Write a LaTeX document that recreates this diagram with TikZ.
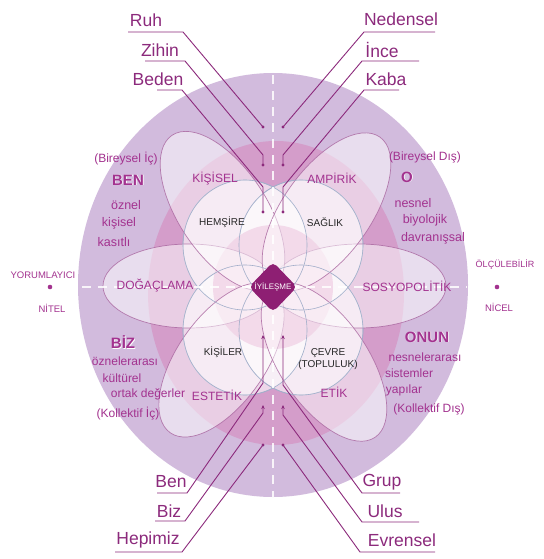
\documentclass[tikz,border=0pt]{standalone}
\usepackage{fontspec}
\setmainfont{Liberation Sans}
\usetikzlibrary{arrows.meta}
\definecolor{outerc}{HTML}{D2BBDD}
\definecolor{pinkc}{HTML}{D49DCA}
\definecolor{innerpink}{HTML}{E2A4CB}
\definecolor{petaledge}{HTML}{A8649E}
\definecolor{circedge}{HTML}{A3AECA}
\definecolor{linec}{HTML}{8C2A7C}
\definecolor{txtc}{HTML}{A3328F}
\definecolor{diac}{HTML}{8E1F73}
\tikzset{
  petal/.style={fill=white, fill opacity=0.5, draw=petaledge, draw opacity=0.8, line width=0.7pt},
  wcirc/.style={fill=white, fill opacity=0.6, draw=circedge, line width=0.7pt},
  leader/.style={draw=linec, line width=0.9pt},
  lbl/.style={text=linec, font=\fontsize{17.5}{20}\selectfont, inner sep=0pt},
  qtxt/.style={text=txtc, font=\fontsize{12.5}{14}\selectfont, inner sep=0pt},
  ptxt/.style={text=txtc, font=\fontsize{12}{14}\selectfont, inner sep=0pt},
  ctxt/.style={text=black!85, font=\fontsize{10}{11.5}\selectfont, inner sep=0pt, align=center},
  atxt/.style={text=txtc, font=\fontsize{9.5}{11}\selectfont, inner sep=0pt},
  btxt/.style={text=txtc, font=\bfseries\fontsize{15}{17}\selectfont, inner sep=0pt},
  bglow/.style={text=white, font=\bfseries\fontsize{15}{17}\selectfont, inner sep=0pt},
  dotend/.style={fill=linec},
  axisdash/.style={draw=white, draw opacity=0.85, line width=1.5pt, dash pattern=on 9pt off 7pt}
}
\begin{document}
\begin{tikzpicture}[x=1pt,y=-1pt]
\useasboundingbox (0,0) rectangle (543,559);
\fill[white] (0,0) rectangle (543,559);
% outer disk and pink band
\fill[outerc] (273,285) ellipse [x radius=195pt, y radius=212pt];
\fill[pinkc] (276,293) ellipse [x radius=128pt, y radius=152pt];
% four circles
\foreach \cx/\cy in {245/245, 301/245, 245/330, 301/330}
  \filldraw[wcirc] (\cx,\cy) ellipse [x radius=62pt, y radius=65pt];
% inner pink circle
\fill[innerpink, opacity=0.75] (273,287) ellipse [x radius=60pt, y radius=62pt];
% petals
\filldraw[petal] (189,286) ellipse [x radius=86pt, y radius=42pt];
\filldraw[petal] (359,286) ellipse [x radius=87pt, y radius=42pt];
\filldraw[petal, rotate around={123.6:(222.5,211)}] (222.5,211) ellipse [x radius=91pt, y radius=44pt];
\filldraw[petal, rotate around={54.5:(326.5,212)}] (326.5,212) ellipse [x radius=92pt, y radius=44pt];
\filldraw[petal, rotate around={54.8:(221.5,360)}] (221.5,360) ellipse [x radius=89pt, y radius=44pt];
\filldraw[petal, rotate around={-55.8:(324,362)}] (324,362) ellipse [x radius=91pt, y radius=44pt];
% circle outlines again
\foreach \cx/\cy in {245/245, 301/245, 245/330, 301/330}
  \draw[draw=circedge, line width=0.6pt] (\cx,\cy) ellipse [x radius=62pt, y radius=65pt];
% axes
\draw[axisdash] (273,75) -- (273,497);
\draw[axisdash] (82,287) -- (467,287);

% leader labels top-left
\node[lbl] (ruh) at (146,20) {Ruh};
\node[lbl] (zihin) at (160,50) {Zihin};
\node[lbl] (beden) at (158,79) {Beden};
\coordinate (ruhA) at (128,32); \coordinate (ruhB) at (183,32); \coordinate (ruhE) at (263,127);
\coordinate (zihA) at (145,61); \coordinate (zihB) at (185,61); \coordinate (zihC) at (263,155); \coordinate (zihE) at (263,165);
\coordinate (bedA) at (157,90); \coordinate (bedB) at (182,90); \coordinate (bedC) at (263,187); \coordinate (bedE) at (263,212);
\draw[leader] (ruhA) -- (ruhB) -- (ruhE);
\draw[leader] (zihA) -- (zihB) -- (zihC) -- (zihE);
\draw[leader] (bedA) -- (bedB) -- (bedC) -- (bedE);
\fill[dotend] (ruhE) circle (1.6pt);
\fill[dotend] (zihE) circle (1.6pt);
\fill[dotend] (bedE) circle (1.6pt);
% top-right
\node[lbl] (ned) at (401,19) {Nedensel};
\node[lbl] (ince) at (382,50) {İnce};
\node[lbl] (kaba) at (386,79) {Kaba};
\coordinate (nedA) at (435,32); \coordinate (nedB) at (364,32); \coordinate (nedE) at (283,127);
\coordinate (incA) at (419,61); \coordinate (incB) at (362,61); \coordinate (incC) at (283,155); \coordinate (incE) at (283,165);
\coordinate (kabA) at (399,90); \coordinate (kabB) at (364,90); \coordinate (kabC) at (283,187); \coordinate (kabE) at (283,212);
\draw[leader] (nedA) -- (nedB) -- (nedE);
\draw[leader] (incA) -- (incB) -- (incC) -- (incE);
\draw[leader] (kabA) -- (kabB) -- (kabC) -- (kabE);
\fill[dotend] (nedE) circle (1.6pt);
\fill[dotend] (incE) circle (1.6pt);
\fill[dotend] (kabE) circle (1.6pt);
% bottom-left
\node[lbl] (ben) at (171,482) {Ben};
\node[lbl] (biz) at (169,511) {Biz};
\node[lbl] (hep) at (148,540) {Hepimiz};
\coordinate (benA) at (157,493); \coordinate (benB) at (187,493); \coordinate (benC) at (263,383); \coordinate (benE) at (263,335);
\coordinate (bizA) at (155,521); \coordinate (bizB) at (185,521); \coordinate (bizC) at (263,413); \coordinate (bizE) at (263,405);
\coordinate (hepA) at (115,552); \coordinate (hepB) at (182,552); \coordinate (hepE) at (263,445);
\draw[leader, -{Stealth[length=4pt,width=3.5pt]}] (benA) -- (benB) -- (benC) -- (benE);
\draw[leader, -{Stealth[length=4pt,width=3.5pt]}] (bizA) -- (bizB) -- (bizC) -- (bizE);
\draw[leader] (hepA) -- (hepB) -- (hepE);
\fill[dotend] (hepE) circle (1.6pt);
% bottom-right
\node[lbl] (grup) at (382,482) {Grup};
\node[lbl] (ulus) at (385,511) {Ulus};
\node[lbl] (evr) at (402,540) {Evrensel};
\coordinate (grA) at (400,493); \coordinate (grB) at (362,493); \coordinate (grC) at (283,385); \coordinate (grE) at (283,335);
\coordinate (ulA) at (419,522); \coordinate (ulB) at (362,522); \coordinate (ulC) at (283,415); \coordinate (ulE) at (283,405);
\coordinate (evA) at (435,552); \coordinate (evB) at (360,552); \coordinate (evE) at (283,445);
\draw[leader, -{Stealth[length=4pt,width=3.5pt]}] (grA) -- (grB) -- (grC) -- (grE);
\draw[leader, -{Stealth[length=4pt,width=3.5pt]}] (ulA) -- (ulB) -- (ulC) -- (ulE);
\draw[leader] (evA) -- (evB) -- (evE);
\fill[dotend] (evE) circle (1.6pt);

% diamond
\fill[diac, rounded corners=5pt] (273,262) -- (297,287) -- (273,312) -- (249,287) -- cycle;
\node[text=white, font=\fontsize{8}{9}\selectfont, inner sep=0pt] (iyi) at (273,287) {İYİLEŞME};

% petal labels
\node[ptxt] (kis) at (215,179) {KİŞİSEL};
\node[ptxt] (amp) at (332,178) {AMPİRİK};
\node[ptxt] (dog) at (155,286) {DOĞAÇLAMA};
\node[ptxt] (sos) at (407,286) {SOSYOPOLİTİK};
\node[ptxt] (est) at (217,395) {ESTETİK};
\node[ptxt] (etk) at (334,392) {ETİK};
% circle labels
\node[ctxt] (hem) at (222,222) {HEMŞİRE};
\node[ctxt] (sag) at (325,222) {SAĞLIK};
\node[ctxt] (kisl) at (223,352) {KİŞİLER};
\node[ctxt] (cev) at (328,359) {ÇEVRE\\(TOPLULUK)};

% quadrant texts
\node[qtxt, font=\fontsize{12}{14}\selectfont] (bic) at (126,159) {(Bireysel İç)};
\node[bglow] at (128.8,180.8) {BEN};
\node[btxt] (benq) at (128,180) {BEN};
\node[qtxt] (q1) at (126,205) {öznel};
\node[qtxt] (q2) at (119,223) {kişisel};
\node[qtxt] (q3) at (114,242) {kasıtlı};

\node[qtxt, font=\fontsize{12}{14}\selectfont] (bid) at (425,157) {(Bireysel Dış)};
\node[bglow] at (407.8,177.8) {O};
\node[btxt] (oq) at (407,177) {O};
\node[qtxt] (r1) at (413,203) {nesnel};
\node[qtxt] (r2) at (425,220) {biyolojik};
\node[qtxt] (r3) at (433,238) {davranışsal};

\node[bglow] at (123.8,342.8) {BİZ};
\node[btxt] (bizq) at (123,342) {BİZ};
\node[qtxt, font=\fontsize{12}{14}\selectfont] (s1) at (125,361) {öznelerarası};
\node[qtxt, font=\fontsize{12}{14}\selectfont] (s2) at (122,378) {kültürel};
\node[qtxt, font=\fontsize{12}{14}\selectfont] (s3) at (148,394) {ortak değerler};
\node[qtxt, font=\fontsize{12}{14}\selectfont] (kic) at (128,414) {(Kollektif İç)};

\node[bglow] at (427.8,337.8) {ONUN};
\node[btxt] (onq) at (427,337) {ONUN};
\node[qtxt, font=\fontsize{12}{14}\selectfont] (t1) at (425,357) {nesnelerarası};
\node[qtxt, font=\fontsize{12}{14}\selectfont] (t2) at (409,373) {sistemler};
\node[qtxt, font=\fontsize{12}{14}\selectfont] (t3) at (404,390) {yapılar};
\node[qtxt, font=\fontsize{12}{14}\selectfont] (kid) at (429,409) {(Kollektif Dış)};

% axis labels
\node[atxt] (yor) at (43,275) {YORUMLAYICI};
\fill[txtc] (50,287) circle (2.3pt);
\node[atxt] (nit) at (52,308) {NİTEL};
\node[atxt, font=\fontsize{9}{11}\selectfont] (olc) at (505,265) {ÖLÇÜLEBİLİR};
\fill[txtc] (497,287) circle (2.3pt);
\node[atxt] (nic) at (499,307) {NİCEL};
\end{tikzpicture}
\end{document}
